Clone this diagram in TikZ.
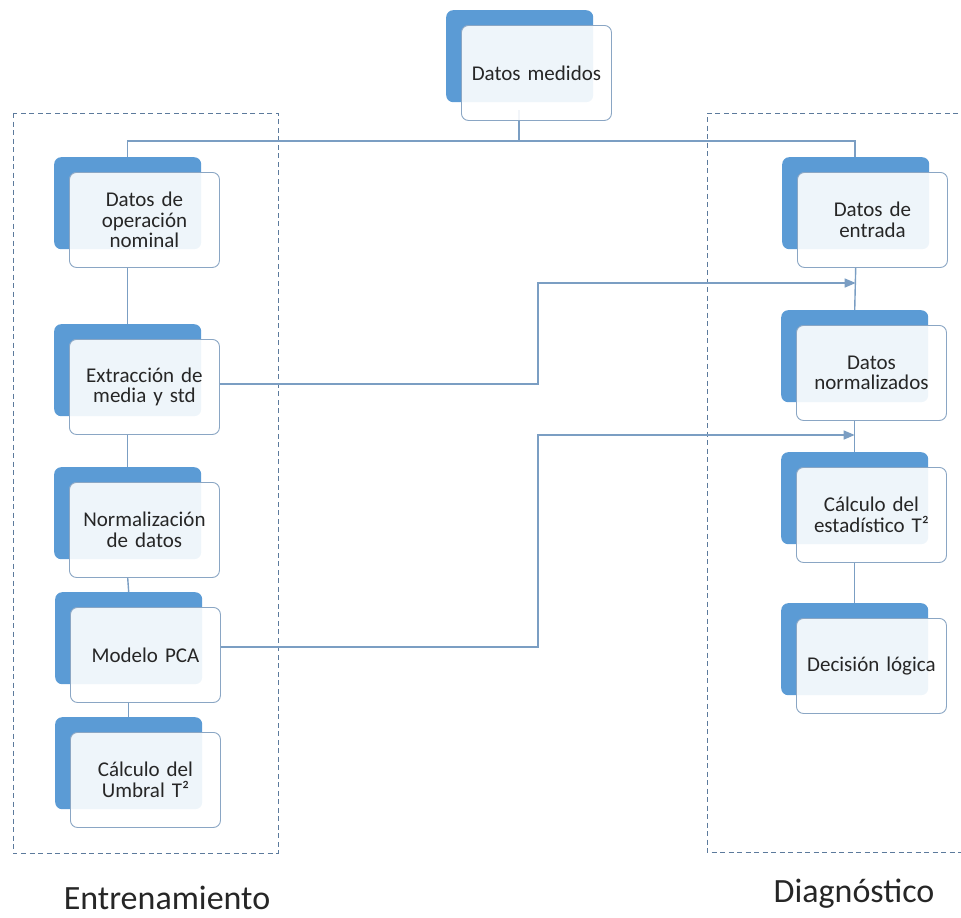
\documentclass[tikz,border=0pt]{standalone}
\usepackage{fontspec}
\setmainfont{Carlito}
\usetikzlibrary{arrows.meta}
\definecolor{backblue}{HTML}{5B9BD5}
\definecolor{frameblue}{HTML}{8AA6C4}
\definecolor{linkblue}{HTML}{7B9EC3}
\definecolor{dashblue}{HTML}{5C7A9C}
\tikzset{
  backbox/.style={draw=none, fill=backblue, rounded corners=7pt, anchor=north west,
    minimum width=147pt, minimum height=92pt, inner sep=0pt},
  frontbox/.style={draw=frameblue, line width=0.9pt, fill=white, fill opacity=0.9,
    text opacity=1, rounded corners=7pt, anchor=north west,
    minimum width=150pt, minimum height=95pt, inner sep=0pt,
    align=center, text width=146pt, font=\fontsize{21}{20.5}\selectfont, text=black!85},
  link/.style={draw=linkblue, line width=1.4pt},
  feed/.style={draw=linkblue, line width=1.4pt, -{Triangle[length=11pt,width=9pt]}},
  group/.style={draw=dashblue, line width=1pt, dash pattern=on 5pt off 3.5pt},
  caption/.style={font=\fontsize{34}{36}\selectfont, text=black!85, anchor=base,
    inner sep=0pt, text depth=0pt}
}
% back plate plus translucent front card holding the label
\newcommand\cardpair[4]{%
  \node[backbox] (#1b) at (#2pt,-#3pt) {};
  \node[frontbox] (#1) at ([xshift=15pt,yshift=-15pt]#1b.north west) {#4};
}
\begin{document}
\begin{tikzpicture}[x=1pt,y=1pt]
\useasboundingbox (0,0) rectangle (961,-918);

% dashed group frames
\draw[group] (13,-113) rectangle (278,-853);
\draw[group] (975,-113) -- (707,-113) -- (707,-852) -- (975,-852);

% hubs for the connectors
\coordinate (split) at (519,-141);
\coordinate (joinA) at (538,-384);
\coordinate (joinB) at (538,-647);

% connectors (drawn first so the translucent cards sit on top)
\draw[link] (519,-110) -- (split);
\draw[link] (127.5,-157) |- (855,-141) -- (855,-157);

\cardpair{top}{446}{10}{Datos medidos}
\cardpair{la}{54}{157}{Datos de\\operación\\nominal}
\cardpair{lb}{54}{324}{Extracción de\\media y std}
\cardpair{lc}{54}{467}{Normalización\\de datos}
\cardpair{ld}{55}{592}{Modelo PCA}
\cardpair{le}{55}{717}{Cálculo del\\Umbral T²}
\cardpair{ra}{782}{157}{Datos de\\entrada}
\cardpair{rb}{781}{310}{Datos\\normalizados}
\cardpair{rc}{781}{452}{Cálculo del\\estadístico T²}
\cardpair{rd}{781}{603}{Decisión lógica}

% training chain
\draw[link] (la.south -| lab.north) -- (lbb.north);
\draw[link] (lb.south -| lbb.north) -- (lcb.north);
\draw[link] (lc.south -| lcb.north) -- (ldb.north);
\draw[link] (ld.south -| ldb.north) -- (leb.north);

% diagnosis chain
\draw[link] (ra.south -| rab.north) -- (rbb.north);
\draw[link] (rb.south -| rbb.north) -- (rcb.north);
\draw[link] (rc.south -| rcb.north) -- (rdb.north);

% parameters passed from training to diagnosis
\draw[feed] (lb.east |- joinA) -- (joinA) |- (rab.north |- 0,-283);
\draw[feed] (ld.east |- joinB) -- (joinB) |- (rbb.north |- 0,-435);

% group captions
\node[caption] (train) at (167,-909) {Entrenamiento};
\node[caption] (diag) at (854,-902) {Diagnóstico};
\end{tikzpicture}
\end{document}
